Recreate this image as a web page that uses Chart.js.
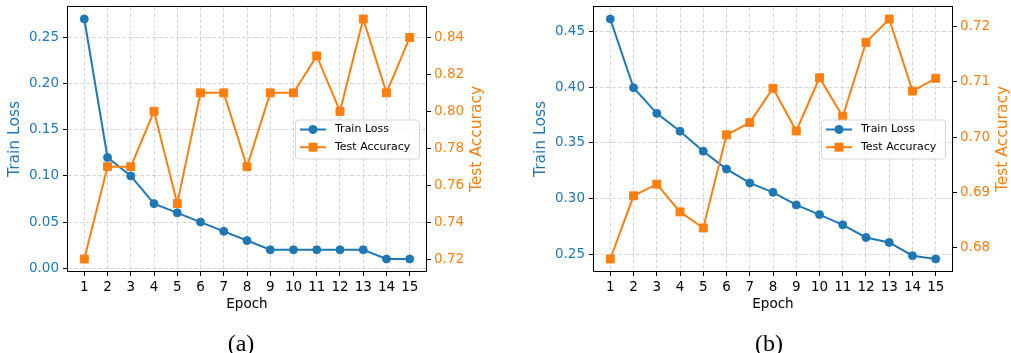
<!DOCTYPE html>
<html><head><meta charset="utf-8">
<script src="https://cdn.jsdelivr.net/npm/chart.js@4.4.0/dist/chart.umd.min.js"></script>
<style>
html,body{margin:0;padding:0;background:#fff;}
body{width:1011px;height:353px;overflow:hidden;position:relative;}
canvas{position:absolute;top:0;}
.cap{position:absolute;top:331px;font-family:'Liberation Serif',serif;font-size:24px;line-height:24px;color:#000;transform:translateX(-50%);white-space:nowrap;}
</style></head>
<body>
<canvas id="ca" width="505" height="353" style="left:0px;width:505px;height:353px"></canvas>
<canvas id="cb" width="506" height="353" style="left:505px;width:506px;height:353px"></canvas>
<div class="cap" style="left:241px">(a)</div>
<div class="cap" style="left:769px">(b)</div>
<script>
const epochs = [1,2,3,4,5,6,7,8,9,10,11,12,13,14,15];
const lossA = [0.27,0.12,0.10,0.07,0.06,0.05,0.04,0.03,0.02,0.02,0.02,0.02,0.02,0.01,0.01];
const accA  = [0.72,0.77,0.77,0.80,0.75,0.81,0.81,0.77,0.81,0.81,0.83,0.80,0.85,0.81,0.84];
const lossB = [0.4617,0.3998,0.3767,0.3606,0.3426,0.3265,0.3140,0.3056,0.2942,0.2855,0.2763,0.2649,0.2604,0.2485,0.2455];
const accB  = [0.6780,0.6894,0.6915,0.6865,0.6836,0.7004,0.7026,0.7088,0.7011,0.7107,0.7037,0.7171,0.7213,0.7083,0.7106];
const lossTicksA = [0.00,0.05,0.10,0.15,0.20,0.25];
const accTicksA  = [0.72,0.74,0.76,0.78,0.80,0.82,0.84];
const lossTicksB = [0.25,0.30,0.35,0.40,0.45];
const accTicksB  = [0.68,0.69,0.70,0.71,0.72];
const seriesNames = ['Train Loss','Test Accuracy'];
const xTitle = 'Epoch';

const BLUE = '#1f77b4', ORANGE = '#ff7f0e';
const FAM = "'DejaVu Sans', sans-serif";
const TICK = 13.5, TITLE = 15.5, LEG = 11;

function padRange(arr){
  const lo = Math.min(...arr), hi = Math.max(...arr), m = (hi - lo) * 0.05;
  return [lo - m, hi + m];
}
const setTicks = vals => s => { s.ticks = vals.map(v => ({value: v})); };
const fitBox = (w, h) => s => {
  if (w != null) s.width = w;
  if (h != null) s.height = h;
  s.paddingTop = s.paddingBottom = s.paddingLeft = s.paddingRight = 0;
};

const deco = {
  id: 'deco',
  afterDraw(chart) {
    const {ctx, chartArea: a} = chart;
    const ds = chart.data.datasets;
    ctx.save();
    // frame (all four spines)
    ctx.strokeStyle = '#000'; ctx.lineWidth = 1; ctx.setLineDash([]);
    ctx.strokeRect(a.left - 0.5, a.top - 0.5, (a.right - a.left) + 1, (a.bottom - a.top) + 1);
    // vertical axis titles
    const cy = (a.top + a.bottom) / 2;
    ctx.font = TITLE + 'px ' + FAM;
    ctx.textAlign = 'center'; ctx.textBaseline = 'middle';
    [[a.left - 53, ds[0].label, BLUE], [a.right + 51, ds[1].label, ORANGE]].forEach(([x, t, c]) => {
      ctx.save(); ctx.translate(x, cy); ctx.rotate(-Math.PI / 2);
      ctx.fillStyle = c; ctx.fillText(t, 0, 0); ctx.restore();
    });
    // legend
    const W = 124, H = 39;
    const right = a.right - 7, left = right - W, top = cy - H / 2;
    ctx.beginPath();
    ctx.roundRect(left + 0.5, top + 0.5, W, H, 3);
    ctx.fillStyle = 'rgba(255,255,255,0.8)'; ctx.fill();
    ctx.strokeStyle = 'rgba(204,204,204,0.8)'; ctx.lineWidth = 1; ctx.stroke();
    const rows = [top + 10, top + 27.7];
    ds.forEach((d, i) => {
      const y = rows[i];
      ctx.strokeStyle = d.borderColor; ctx.lineWidth = 2;
      ctx.beginPath(); ctx.moveTo(left + 5, y); ctx.lineTo(left + 31, y); ctx.stroke();
      ctx.fillStyle = d.borderColor;
      if (d.pointStyle === 'rect') { ctx.fillRect(left + 18 - 4.5, y - 4.5, 9, 9); }
      else { ctx.beginPath(); ctx.arc(left + 18, y, 4.5, 0, Math.PI * 2); ctx.fill(); }
      ctx.fillStyle = '#000'; ctx.font = LEG + 'px ' + FAM;
      ctx.textAlign = 'left'; ctx.textBaseline = 'middle';
      ctx.fillText(d.label, left + 40, y);
    });
    ctx.restore();
  }
};

function makeChart(id, loss, acc, lossTicks, accTicks, leftW, rightW) {
  const [lmin, lmax] = padRange(loss);
  const [amin, amax] = padRange(acc);
  const [xmin, xmax] = padRange(epochs);
  const gridDash = {color: 'rgba(176,176,176,0.5)', lineWidth: 1, tickLength: 5, tickColor: '#000', tickWidth: 1};
  return new Chart(document.getElementById(id), {
    type: 'line',
    data: {
      datasets: [
        {label: seriesNames[0], data: epochs.map((e, i) => ({x: e, y: loss[i]})), yAxisID: 'y',
         borderColor: BLUE, backgroundColor: BLUE, borderWidth: 2, pointStyle: 'circle',
         pointRadius: 4, pointBorderWidth: 1, pointBackgroundColor: BLUE, pointBorderColor: BLUE, order: 1, tension: 0},
        {label: seriesNames[1], data: epochs.map((e, i) => ({x: e, y: acc[i]})), yAxisID: 'y1',
         borderColor: ORANGE, backgroundColor: ORANGE, borderWidth: 2, pointStyle: 'rect',
         pointRadius: 5.6, pointBorderWidth: 1, pointBackgroundColor: ORANGE, pointBorderColor: ORANGE, order: 0, tension: 0}
      ]
    },
    options: {
      responsive: false, animation: false, events: [], devicePixelRatio: 1,
      layout: {padding: {top: 7, bottom: 40, left: 0, right: 0}},
      plugins: {legend: {display: false}, tooltip: {enabled: false}},
      scales: {
        x: {type: 'linear', min: xmin, max: xmax, bounds: 'data',
            afterBuildTicks: setTicks(epochs), afterFit: fitBox(null, 42),
            grid: gridDash, border: {display: false, dash: [4, 2]},
            ticks: {color: '#000', font: {family: FAM, size: TICK}, padding: 3, autoSkip: false, maxRotation: 0, callback: v => String(v)},
            title: {display: true, text: xTitle, color: '#000', font: {family: FAM, size: TICK}, padding: {top: 0, bottom: 0}}},
        y: {type: 'linear', position: 'left', min: lmin, max: lmax, bounds: 'data',
            afterBuildTicks: setTicks(lossTicks), afterFit: fitBox(leftW, null),
            grid: gridDash, border: {display: false, dash: [4, 2]},
            ticks: {color: BLUE, font: {family: FAM, size: TICK}, padding: 4, callback: v => v.toFixed(2)}},
        y1: {type: 'linear', position: 'right', min: amin, max: amax, bounds: 'data',
            afterBuildTicks: setTicks(accTicks), afterFit: fitBox(rightW, null),
            grid: {drawOnChartArea: false, tickLength: 5, tickColor: '#000', tickWidth: 1, color: '#000'},
            border: {display: false},
            ticks: {color: ORANGE, font: {family: FAM, size: TICK}, padding: 3, callback: v => v.toFixed(2)}}
      }
    },
    plugins: [deco]
  });
}

makeChart('ca', lossA, accA, lossTicksA, accTicksA, 68, 79);
makeChart('cb', lossB, accB, lossTicksB, accTicksB, 89, 59);
</script>
</body></html>
